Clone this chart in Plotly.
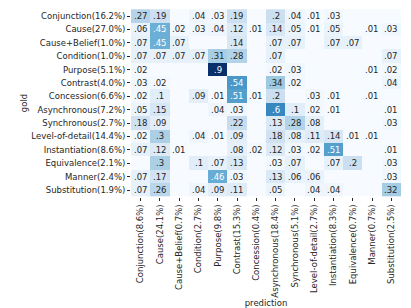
import plotly.graph_objects as go

gold_labels = ["Conjunction(16.2%)", "Cause(27.0%)", "Cause+Belief(1.0%)", "Condition(1.0%)",
               "Purpose(5.1%)", "Contrast(4.0%)", "Concession(6.6%)", "Asynchronous(7.2%)",
               "Synchronous(2.7%)", "Level-of-detail(14.4%)", "Instantiation(8.6%)",
               "Equivalence(2.1%)", "Manner(2.4%)", "Substitution(1.9%)"]
pred_labels = ["Conjunction(8.6%)", "Cause(24.1%)", "Cause+Belief(0.7%)", "Condition(2.7%)",
               "Purpose(9.8%)", "Contrast(15.3%)", "Concession(0.4%)", "Asynchronous(18.4%)",
               "Synchronous(5.1%)", "Level-of-detail(2.7%)", "Instantiation(8.3%)",
               "Equivalence(0.7%)", "Manner(0.7%)", "Substitution(2.5%)"]

conjunction   = [.27, .19, 0, .04, .03, .19, 0, .2, .04, .01, .03, 0, 0, 0]
cause         = [.06, .45, .02, .03, .04, .12, .01, .14, .05, .01, .05, 0, .01, .03]
cause_belief  = [.07, .45, .07, 0, 0, .14, 0, .07, .07, 0, .07, .07, 0, 0]
condition     = [.07, .07, .07, .07, .31, .28, 0, .07, 0, 0, 0, 0, 0, .07]
purpose       = [.02, 0, 0, 0, .9, 0, 0, .02, .03, 0, 0, 0, .01, .02]
contrast      = [.03, .02, 0, 0, 0, .54, 0, .34, .02, 0, 0, 0, 0, .04]
concession    = [.02, .1, 0, .09, .01, .51, .01, .2, 0, .03, .01, 0, .01, 0]
asynchronous  = [.05, .15, 0, 0, .04, .03, 0, .6, .1, .02, .01, 0, 0, .01]
synchronous   = [.18, .09, 0, 0, 0, .22, 0, .13, .28, .08, 0, 0, 0, .03]
level_detail  = [.02, .3, 0, .04, .01, .09, 0, .18, .08, .11, .14, .01, .01, 0]
instantiation = [.07, .12, .01, 0, 0, .08, .02, .12, .03, .02, .51, 0, 0, .01]
equivalence   = [0, .3, 0, .1, .07, .13, 0, .03, .07, 0, .07, .2, 0, .03]
manner        = [.07, .17, 0, 0, .46, .03, 0, .13, .06, .06, 0, 0, 0, .03]
substitution  = [.07, .26, 0, .04, .09, .11, 0, .05, 0, .04, .04, 0, 0, .32]

matrix = [conjunction, cause, cause_belief, condition, purpose, contrast, concession,
          asynchronous, synchronous, level_detail, instantiation, equivalence, manner,
          substitution]

blues = [[0.0, "#f7fbff"], [0.125, "#deebf7"], [0.25, "#c6dbef"], [0.375, "#9ecae1"],
         [0.5, "#6baed6"], [0.625, "#4292c6"], [0.75, "#2171b5"], [0.875, "#08519c"],
         [1.0, "#08306b"]]
zmax = max(max(r) for r in matrix)
FS = 8.5

def fmt(v):
    if v == 0:
        return ""
    return f"{v:.2f}".lstrip("0").rstrip("0")

fig = go.Figure(go.Heatmap(
    z=matrix, x=pred_labels, y=gold_labels, colorscale=blues, zmin=0, zmax=zmax,
    showscale=False, xgap=0, ygap=0, hoverinfo="skip"))

annotations = []
for i, row in enumerate(matrix):
    for j, v in enumerate(row):
        t = fmt(v)
        if not t:
            continue
        annotations.append(dict(
            x=pred_labels[j], y=gold_labels[i], text=t, showarrow=False,
            font=dict(family="DejaVu Sans", size=FS,
                      color="white" if v / zmax > 0.45 else "#262626")))

fig.update_layout(
    width=411, height=308,
    margin=dict(l=123, r=18, t=1, b=119),
    paper_bgcolor="white", plot_bgcolor="white",
    font=dict(family="DejaVu Sans", size=FS, color="#262626"),
    annotations=annotations,
    xaxis=dict(tickangle=-90, ticks="outside", ticklen=3, tickcolor="#262626",
               showgrid=False, zeroline=False, showline=False, automargin=False,
               title=dict(text="prediction", font=dict(size=FS), standoff=2),
               tickfont=dict(size=FS)),
    yaxis=dict(autorange="reversed", ticks="outside", ticklen=3, tickcolor="#262626",
               showgrid=False, zeroline=False, showline=False, automargin=False,
               title=dict(text="gold", font=dict(size=FS), standoff=2),
               tickfont=dict(size=FS)),
)

fig.write_html("out.html")
